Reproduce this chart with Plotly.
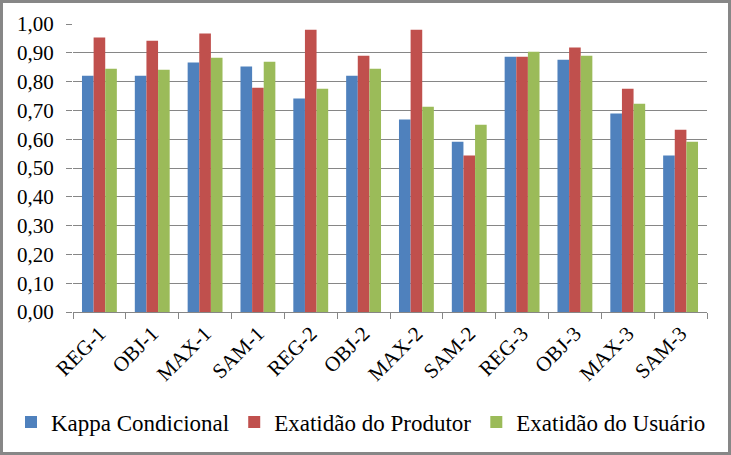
import plotly.graph_objects as go

categories = ["REG-1", "OBJ-1", "MAX-1", "SAM-1", "REG-2", "OBJ-2",
              "MAX-2", "SAM-2", "REG-3", "OBJ-3", "MAX-3", "SAM-3"]
kappa = [0.820, 0.820, 0.866, 0.852, 0.741, 0.820, 0.668, 0.591, 0.886, 0.876, 0.689, 0.543]
produtor = [0.953, 0.942, 0.967, 0.779, 0.980, 0.890, 0.980, 0.543, 0.886, 0.918, 0.775, 0.633]
usuario = [0.845, 0.841, 0.883, 0.869, 0.775, 0.845, 0.713, 0.650, 0.904, 0.890, 0.723, 0.591]
y_ticks = [i / 10 for i in range(11)]
y_labels = [f"{v:.2f}".replace(".", ",") for v in y_ticks]

W, H = 731, 455
M = dict(l=73, r=24, t=24, b=143, autoexpand=False)
PW, PH = W - M["l"] - M["r"], H - M["t"] - M["b"]
SERIF = "Times New Roman, Liberation Serif, serif"

fig = go.Figure()
for name, vals, color in [
    ("Kappa Condicional", kappa, "#4f81bd"),
    ("Exatidão do Produtor", produtor, "#c0504d"),
    ("Exatidão do Usuário", usuario, "#9bbb59"),
]:
    fig.add_trace(go.Bar(x=categories, y=vals, name=name,
                         marker=dict(color=color, line=dict(width=0))))

# outer gray frame of the chart area
fig.add_shape(type="rect", xref="paper", yref="paper",
              x0=(1.5 - M["l"]) / PW, x1=1 + (M["r"] - 1.5) / PW,
              y0=(1.5 - M["b"]) / PH, y1=1 + (M["t"] - 1.5) / PH,
              line=dict(color="#878787", width=3))

fig.update_layout(
    width=W, height=H, margin=M,
    paper_bgcolor="white", plot_bgcolor="white",
    font=dict(family=SERIF, size=21, color="black"),
    barmode="group", bargap=0.34, bargroupgap=0,
    showlegend=True,
    legend=dict(orientation="h", x=(11 - M["l"]) / PW, xanchor="left",
                y=-0.382, yanchor="middle",
                font=dict(family=SERIF, size=23), itemwidth=30, traceorder="normal"),
)
fig.update_xaxes(type="category", showline=True, linecolor="#868686", linewidth=1,
                 ticks="outside", ticklen=6, tickcolor="#868686", tickson="boundaries",
                 tickangle=-45, showgrid=False, tickfont=dict(family=SERIF, size=21))
fig.update_yaxes(range=[0, 1.0], tickvals=y_ticks, ticktext=y_labels,
                 showgrid=True, gridcolor="#868686", gridwidth=1, zeroline=False,
                 showline=False, ticks="outside", ticklen=6, tickcolor="#868686",
                 ticklabelstandoff=8, tickfont=dict(family=SERIF, size=21))

fig.write_html("out.html", config={"displayModeBar": False},
               post_script="document.body.style.margin='0';document.body.style.overflow='hidden';")
